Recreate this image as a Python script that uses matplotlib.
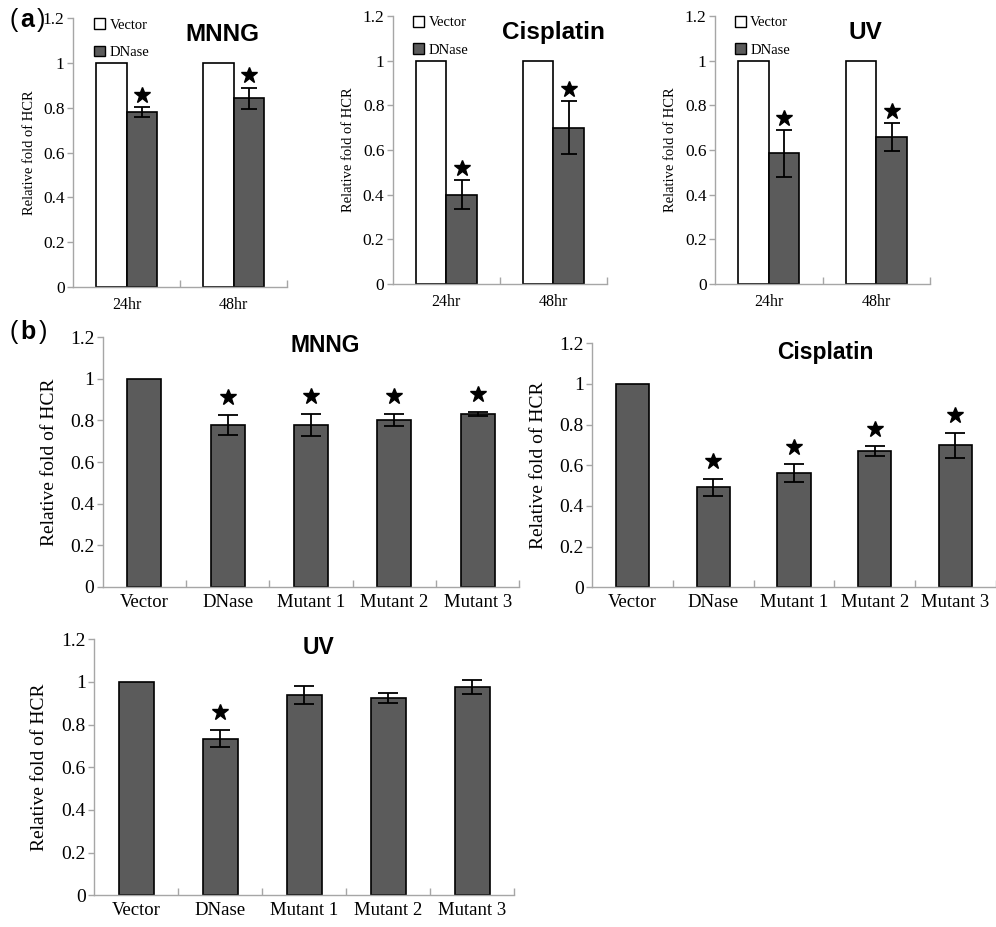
import matplotlib
matplotlib.use("Agg")
import matplotlib.pyplot as plt
import numpy as np
from matplotlib.patches import Patch
from matplotlib.ticker import FixedLocator, FuncFormatter

plt.rcParams["font.family"] = ["Liberation Serif", "DejaVu Serif"]

# panel (a): time course, vector vs DNase
hours = ["24hr", "48hr"]
vector_a = [1.0, 1.0]
mnng_a = [0.780, 0.843]
mnng_a_err = [0.023, 0.047]
cis_a = [0.400, 0.700]
cis_a_err = [0.065, 0.118]
uv_a = [0.585, 0.658]
uv_a_err = [0.105, 0.061]

# panel (b): vector, DNase and mutants
constructs = ["Vector", "DNase", "Mutant 1", "Mutant 2", "Mutant 3"]
mnng_b = [1.0, 0.778, 0.778, 0.802, 0.831]
mnng_b_err = [0, 0.050, 0.053, 0.031, 0.011]
mnng_b_star = [False, True, True, True, True]
cis_b = [1.0, 0.492, 0.562, 0.670, 0.698]
cis_b_err = [0, 0.042, 0.045, 0.025, 0.063]
cis_b_star = [False, True, True, True, True]
uv_b = [1.0, 0.733, 0.940, 0.925, 0.976]
uv_b_err = [0, 0.040, 0.042, 0.025, 0.034]
uv_b_star = [False, True, False, False, False]

GRAY = "#5b5b5b"
SPINE = "#a6a6a6"


def style_axes(ax, n, ytick_size, ylab_size, ylab_x):
    ax.set_xlim(-0.5, n - 0.5)
    ax.set_ylim(0, 1.2)
    for s in ["top", "right"]:
        ax.spines[s].set_visible(False)
    for s in ["left", "bottom"]:
        ax.spines[s].set_color(SPINE)
        ax.spines[s].set_linewidth(1.0)
    ax.set_yticks(np.arange(0, 1.21, 0.2))
    ax.yaxis.set_major_formatter(FuncFormatter(lambda v, p: f"{v:g}"))
    ax.tick_params(axis="y", direction="out", length=4, width=1,
                   color=SPINE, labelsize=ytick_size, pad=2)
    ax.set_xticks(range(n))
    ax.tick_params(axis="x", which="major", length=0)
    ax.xaxis.set_minor_locator(FixedLocator(np.arange(0.5, n, 1.0)))
    ax.tick_params(axis="x", which="minor", direction="in", length=5,
                   width=1, color=SPINE)
    ax.set_ylabel("Relative fold of HCR", fontsize=ylab_size)
    ax.yaxis.set_label_coords(ylab_x, 0.5)


def panel_a(rect, dnase, err, title, title_x, leg_x):
    ax = fig.add_axes(rect)
    x = np.arange(len(hours))
    w = 0.285
    ax.bar(x - w / 2, vector_a, w, color="white", edgecolor="black", lw=1.2)
    ax.bar(x + w / 2, dnase, w, color=GRAY, edgecolor="black", lw=1.2,
           yerr=err, capsize=6, error_kw=dict(lw=1.3, capthick=1.3))
    tops = np.array(dnase) + np.array(err)
    ax.plot(x + w / 2, tops + 0.055, ls="none", marker="*", ms=12, color="black")
    style_axes(ax, len(hours), 12.5, 10.5, -0.175)
    ax.set_xticklabels(hours, fontsize=11.5)
    ax.tick_params(axis="x", which="major", pad=7)
    ax.text(title_x, 0.94, title, transform=ax.transAxes, ha="center",
            va="center", family="Liberation Sans", weight="bold", fontsize=17.5)
    handles = [Patch(facecolor="white", edgecolor="black", lw=1),
               Patch(facecolor=GRAY, edgecolor="black", lw=1)]
    ax.legend(handles, ["Vector", "DNase"], loc="upper left",
              bbox_to_anchor=(leg_x, 1.0), frameon=False, fontsize=10.5,
              handlelength=0.75, handleheight=0.75, handletextpad=0.3,
              labelspacing=0.95, borderpad=0, borderaxespad=0)
    return ax


def panel_b(rect, vals, err, stars, title, title_x, title_y, ylab_x):
    ax = fig.add_axes(rect)
    x = np.arange(len(constructs))
    ax.bar(x, vals, 0.41, color=GRAY, edgecolor="black", lw=1.2)
    ex = x[1:]
    ax.errorbar(ex, vals[1:], yerr=err[1:], fmt="none", ecolor="black",
                elinewidth=1.3, capsize=7.5, capthick=1.3)
    tops = np.array(vals) + np.array(err)
    sx = [xi for xi, s in zip(x, stars) if s]
    sy = [t + 0.085 for t, s in zip(tops, stars) if s]
    ax.plot(sx, sy, ls="none", marker="*", ms=12, color="black")
    style_axes(ax, len(constructs), 14, 14, ylab_x)
    ax.set_xticklabels(constructs, fontsize=13.5)
    ax.tick_params(axis="x", which="major", pad=5)
    ax.text(title_x, title_y, title, transform=ax.transAxes, ha="center",
            va="center", family="Liberation Sans", weight="bold", fontsize=16.5)
    return ax


fig = plt.figure(figsize=(9.96, 9.27), dpi=100)

panel_a([0.0733, 0.6904, 0.2149, 0.2899], mnng_a, mnng_a_err, "MNNG", 0.70, 0.10)
panel_a([0.3943, 0.6936, 0.2152, 0.2891], cis_a, cis_a_err, "Cisplatin", 0.75, 0.095)
panel_a([0.7179, 0.6936, 0.2159, 0.2891], uv_a, uv_a_err, "UV", 0.70, 0.092)

panel_b([0.1031, 0.3671, 0.4183, 0.2690], mnng_b, mnng_b_err, mnng_b_star,
        "MNNG", 0.534, 0.967, -0.107)
panel_b([0.5947, 0.3665, 0.4050, 0.2632], cis_b, cis_b_err, cis_b_star,
        "Cisplatin", 0.577, 0.962, -0.112)
panel_b([0.0947, 0.0342, 0.4217, 0.2762], uv_b, uv_b_err, uv_b_star,
        "UV", 0.533, 0.966, -0.110)

# panel letters: thin parentheses around a bold letter
for y, letter, close_x in [(0.978, "a", 0.0365), (0.642, "b", 0.0385)]:
    fig.text(0.010, y, "(", fontsize=18, family="Liberation Sans", va="center")
    fig.text(0.0205, y, letter, fontsize=18, family="Liberation Sans",
             weight="bold", va="center")
    fig.text(close_x, y, ")", fontsize=18, family="Liberation Sans", va="center")

fig.savefig("out.png", dpi=100)
